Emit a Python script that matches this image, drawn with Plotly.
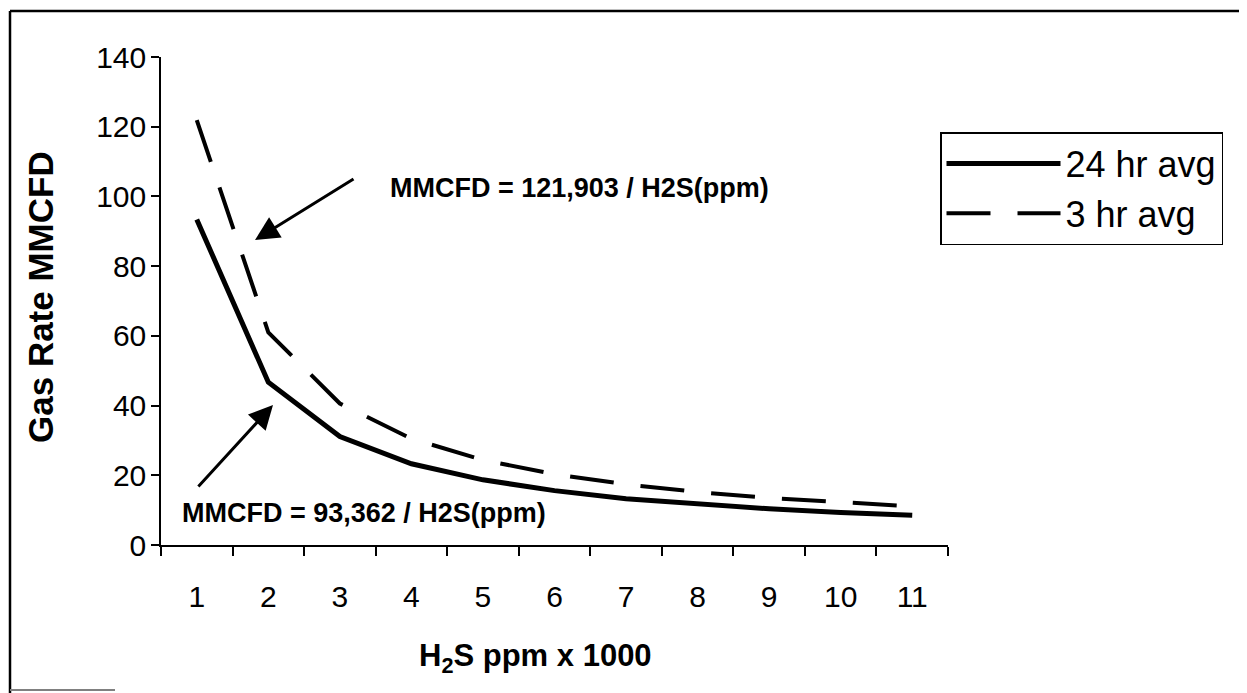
import plotly.graph_objects as go

# ---- data ----
h2s_kppm = ["1", "2", "3", "4", "5", "6", "7", "8", "9", "10", "11"]
rate_24hr = [93.4, 46.7, 31.1, 23.3, 18.7, 15.6, 13.3, 11.7, 10.4, 9.3, 8.5]
rate_3hr = [121.9, 61.0, 40.6, 30.5, 24.4, 20.3, 17.4, 15.2, 13.5, 12.2, 11.1]
y_ticks = [0, 20, 40, 60, 80, 100, 120, 140]
label_3hr = "MMCFD = 121,903 / H2S(ppm)"
label_24hr = "MMCFD = 93,362 / H2S(ppm)"
x_title = "H<sub>2</sub>S ppm x 1000"
y_title = "Gas Rate MMCFD"

# page geometry (the html body adds an 8px margin around the figure)
PAGE_W, PAGE_H, OFF = 1247, 693, 8
W, H = PAGE_W - OFF, PAGE_H - OFF
L, R, T, B = 161, 948, 57, 545  # plot area, page pixels


def px(x):
    return (x - L) / (R - L)


def py(y):
    return (B - y) / (B - T)


FONT = "Liberation Sans, Arial, sans-serif"

fig = go.Figure()
fig.add_trace(go.Scatter(
    x=h2s_kppm, y=rate_24hr, mode="lines", name="24 hr avg",
    line=dict(color="black", width=5), legendgroup="a"))
fig.add_trace(go.Scatter(
    x=h2s_kppm, y=rate_3hr, mode="lines", name="3 hr avg",
    line=dict(color="black", width=4, dash="44px,27px"), legendgroup="b"))

fig.update_layout(
    width=W, height=H,
    margin=dict(l=L - OFF, r=PAGE_W - R, t=T - OFF, b=PAGE_H - B, autoexpand=False),
    paper_bgcolor="white", plot_bgcolor="white",
    font=dict(family=FONT, color="black", size=30),
    showlegend=True,
    legend=dict(
        x=px(940), y=py(132), xanchor="left", yanchor="top",
        bordercolor="black", borderwidth=1.5, bgcolor="white",
        font=dict(size=36, family=FONT), itemwidth=114,
        traceorder="grouped", tracegroupgap=0,
    ),
)
fig.update_xaxes(
    type="category", range=[-0.5, 10.5], tickson="boundaries",
    ticks="outside", ticklen=9, tickwidth=1.5, tickcolor="black",
    showline=True, linecolor="black", linewidth=1.5, showgrid=False,
    zeroline=False, tickfont=dict(size=30), ticklabelstandoff=24,
)
fig.update_yaxes(
    range=[0, 140], tickvals=y_ticks,
    ticks="outside", ticklen=8, tickwidth=1.5, tickcolor="black",
    showline=True, linecolor="black", linewidth=1.5, showgrid=False,
    zeroline=False, tickfont=dict(size=30), ticklabelstandoff=-1,
)

# axis titles
fig.add_annotation(xref="paper", yref="paper", x=px(535), y=py(658),
                   xanchor="center", yanchor="middle", showarrow=False,
                   text="<b>" + x_title + "</b>", font=dict(size=31))
fig.add_annotation(xref="paper", yref="paper", x=px(40), y=py(297),
                   xanchor="center", yanchor="middle", showarrow=False,
                   textangle=-90, text="<b>" + y_title + "</b>", font=dict(size=35))

# equation labels with arrows
fig.add_annotation(xref="paper", yref="paper", x=px(388), y=py(188),
                   xanchor="left", yanchor="middle", showarrow=False,
                   text="<b>" + label_3hr + "</b>", font=dict(size=27))
fig.add_annotation(xref="paper", yref="paper", x=px(255), y=py(240),
                   ax=355 - 255, ay=178 - 240, text="", showarrow=True,
                   arrowhead=2, arrowsize=1.6, arrowwidth=3, arrowcolor="black")
fig.add_annotation(xref="paper", yref="paper", x=px(180), y=py(513),
                   xanchor="left", yanchor="middle", showarrow=False,
                   text="<b>" + label_24hr + "</b>", font=dict(size=27))
fig.add_annotation(xref="paper", yref="paper", x=px(273), y=py(405),
                   ax=197 - 273, ay=488 - 405, text="", showarrow=True,
                   arrowhead=2, arrowsize=1.6, arrowwidth=3, arrowcolor="black")

# outer frame (as in the scanned figure)
fig.add_shape(type="line", xref="paper", yref="paper",
              x0=px(10), x1=px(1247), y0=py(11), y1=py(11),
              line=dict(color="black", width=2.5))
fig.add_shape(type="line", xref="paper", yref="paper",
              x0=px(10), x1=px(10), y0=py(11), y1=py(693),
              line=dict(color="black", width=2.5))
fig.add_shape(type="line", xref="paper", yref="paper",
              x0=px(10), x1=px(115), y0=py(690), y1=py(690),
              line=dict(color="gray", width=2))

fig.write_html("out.html")
